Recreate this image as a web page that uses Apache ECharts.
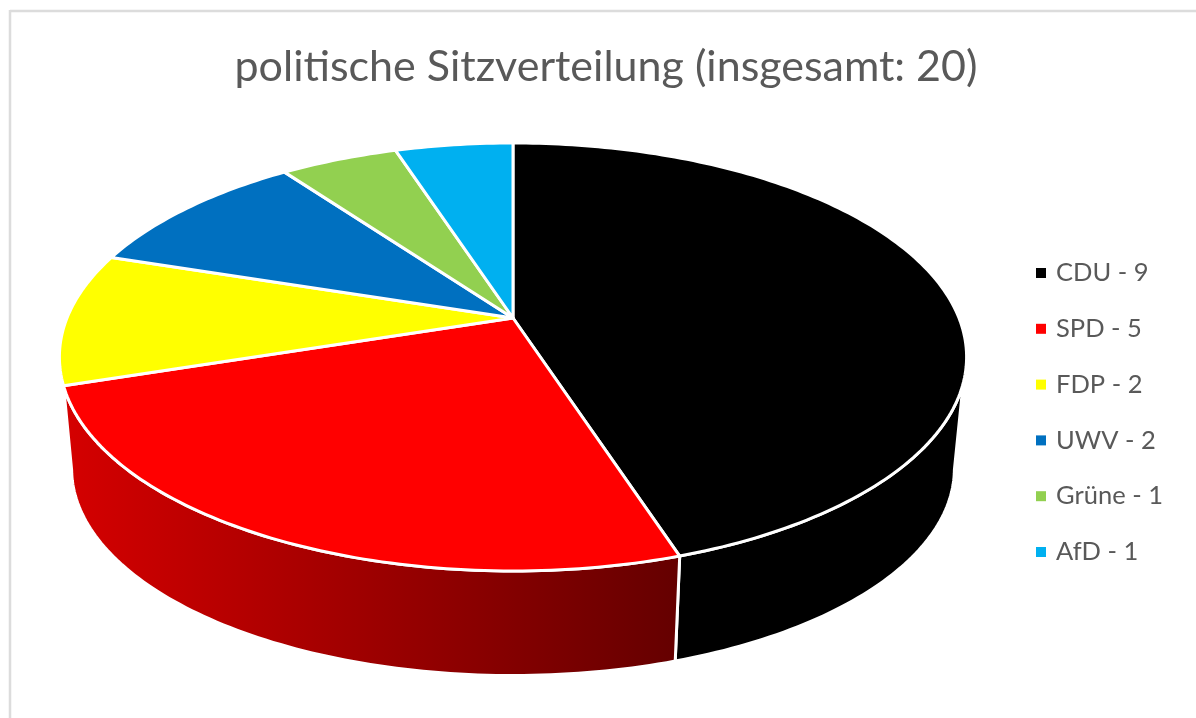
<!DOCTYPE html>
<html>
<head>
<meta charset="utf-8">
<script src="https://cdn.jsdelivr.net/npm/echarts@6/dist/echarts.min.js"></script>
<style>html,body{margin:0;padding:0;background:#fff}#c{width:1196px;height:718px}</style>
</head>
<body>
<div id="c"></div>
<script>
const titleText = 'politische Sitzverteilung (insgesamt: 20)';
const parties = ['CDU', 'SPD', 'FDP', 'UWV', 'Grüne', 'AfD'];
const seats = [9, 5, 2, 2, 1, 1];
const colors = ['#000000', '#ff0000', '#ffff00', '#0070c0', '#92d050', '#00b0f0'];

const total = seats.reduce((a, b) => a + b, 0);
const K = 0.1822;
const topDisc = { cx: 513, cy: 318, a: 446, b: 206.9 };
const lowDisc = { cx: 513, cy: 431, a: 434, b: 200 };
const TOP_VIS = [107.3, 252.7];
const LOW_VIS = [100.8, 259.2];

function rim(d, deg) {
  const t = deg * Math.PI / 180, u = Math.sin(t), v = -Math.cos(t), w = 1 - K * v;
  return [d.cx + d.a * u / w, d.cy + d.b * v / w];
}
function arc(d, from, to) {
  const pts = [], n = Math.max(1, Math.ceil(Math.abs(to - from)));
  for (let i = 0; i <= n; i++) pts.push(rim(d, from + (to - from) * i / n));
  return pts;
}

let running = 0;
const series = parties.map((p, i) => {
  const start = running;
  running += seats[i];
  return {
    type: 'custom',
    name: p + ' - ' + seats[i],
    coordinateSystem: 'none',
    itemStyle: { color: colors[i] },
    z: 2,
    data: [[seats[i], start]],
    renderItem: function (params, api) {
      const a0 = api.value(1) / total * 360;
      const a1 = (api.value(1) + api.value(0)) / total * 360;
      const children = [];
      if (a0 < TOP_VIS[1] - 1 && a1 > TOP_VIS[0]) {
        const t0 = Math.max(a0, TOP_VIS[0]);
        const t1 = Math.min(a1, TOP_VIS[1]);
        const l0 = a0 <= TOP_VIS[0] ? LOW_VIS[0] : a0;
        const l1 = a1 >= TOP_VIS[1] - 1 ? LOW_VIS[1] : a1;
        const pts = arc(topDisc, t0, t1).concat(arc(lowDisc, l1, l0));
        const fill = colors[i] === '#ff0000'
          ? { type: 'linear', x: 70, y: 0, x2: 676, y2: 0, global: true,
              colorStops: [{ offset: 0, color: '#d40000' }, { offset: 1, color: '#650000' }] }
          : colors[i];
        children.push({
          type: 'polygon', shape: { points: pts },
          style: { fill: fill, stroke: '#ffffff', lineWidth: 3, lineJoin: 'round' }
        });
      }
      const topPts = [[topDisc.cx, topDisc.cy]].concat(arc(topDisc, a0, a1));
      children.push({
        type: 'polygon', shape: { points: topPts },
        style: { fill: colors[i], stroke: '#ffffff', lineWidth: 3, lineJoin: 'round' }
      });
      return { type: 'group', children: children };
    }
  };
});

const chart = echarts.init(document.getElementById('c'), null, { renderer: 'canvas' });
chart.setOption({
  animation: false,
  backgroundColor: '#ffffff',
  title: {
    text: titleText, left: 601, top: 41, textAlign: 'center',
    textStyle: { fontFamily: 'Lato', fontSize: 43, fontWeight: 'normal', color: '#595959' }
  },
  legend: {
    orient: 'vertical', left: 1031, top: 255,
    data: series.map(s => s.name),
    icon: 'rect', itemWidth: 10, itemHeight: 10, itemGap: 29.8,
    selectedMode: false,
    textStyle: { fontFamily: 'Lato', fontSize: 25.5, color: '#595959', padding: [0, 0, 0, 5], height: 26, lineHeight: 26 }
  },
  graphic: [
    { type: 'line', silent: true, z: 0, shape: { x1: 10, y1: 11, x2: 1196, y2: 11 },
      style: { stroke: '#dcdcdc', lineWidth: 2.5 } },
    { type: 'line', silent: true, z: 0, shape: { x1: 10, y1: 10, x2: 10, y2: 718 },
      style: { stroke: '#dcdcdc', lineWidth: 2.5 } }
  ],
  series: series
});
</script>
</body>
</html>
